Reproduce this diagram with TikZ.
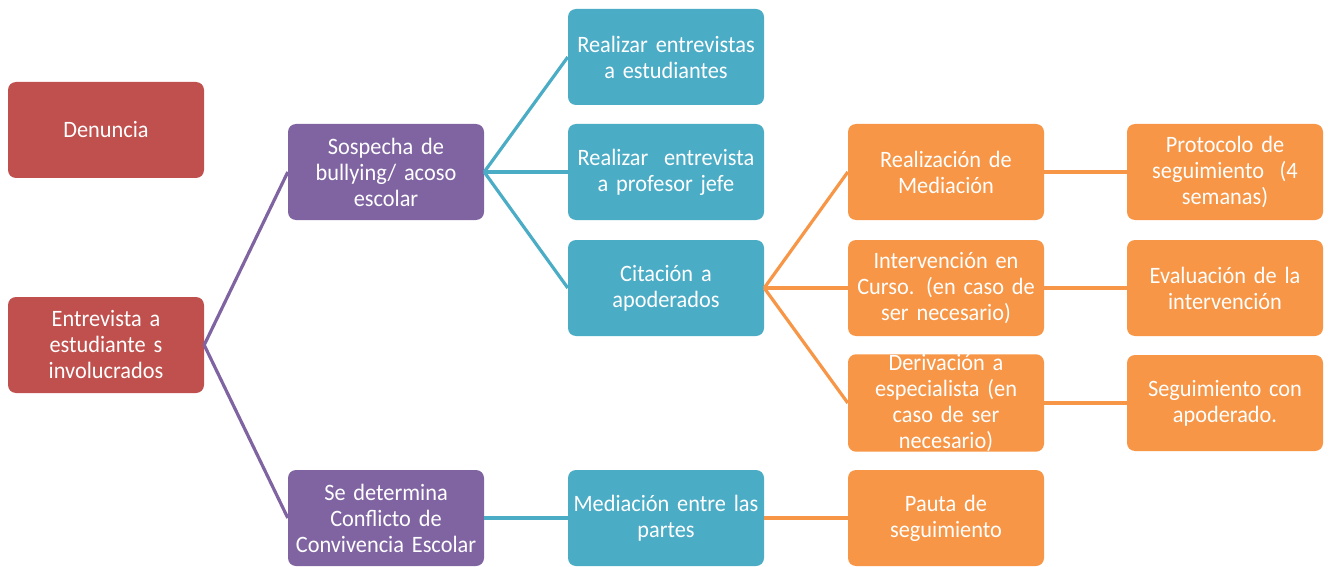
\documentclass[tikz,border=0pt]{standalone}
\usepackage{fontspec}
\setmainfont{Carlito}[FakeStretch=0.95]
\definecolor{cred}{HTML}{C0504D}
\definecolor{cpurple}{HTML}{8064A2}
\definecolor{cteal}{HTML}{4BACC6}
\definecolor{corange}{HTML}{F79646}
\newcommand{\boxfont}{\fontsize{23.5}{26}\selectfont\spaceskip=0.17em plus 0.05em minus 0.02em\relax}
\begin{document}
\begin{tikzpicture}[x=1pt,y=-1pt,
  box/.style={rounded corners=8pt, minimum width=196pt, minimum height=96pt, inner sep=0pt,
    text=white, align=center, text width=196pt, font=\boxfont},
  redbox/.style={box, fill=cred},
  purplebox/.style={box, fill=cpurple},
  tealbox/.style={box, fill=cteal},
  orangebox/.style={box, fill=corange},
  link/.style={line width=3.2pt}]
\useasboundingbox (0,0) rectangle (1331,567);
\node[redbox] (den) at (106,130) {Denuncia};
\node[redbox] (ent) at (106,345) {Entrevista a\\estudiante s\\involucrados};
\node[purplebox] (sos) at (386,172) {Sospecha de\\bullying/ acoso\\escolar};
\node[purplebox] (con) at (386,518) {Se determina\\Conflicto de\\Convivencia Escolar};
\node[tealbox] (r1) at (666,57) {Realizar entrevistas\\a estudiantes};
\node[tealbox] (r2) at (666,172) {Realizar\ \ entrevista\\a profesor jefe};
\node[tealbox] (cit) at (666,288) {Citación a\\apoderados};
\node[tealbox] (med) at (666,518) {Mediación entre las\\partes};
\node[orangebox] (rea) at (946,172) {Realización de\\Mediación};
\node[orangebox] (int) at (946,288) {Intervención en\\Curso. (en caso de\\ser necesario)};
\node[orangebox] (der) at (946,403) {Derivación a\\especialista (en\\caso de ser\\necesario)};
\node[orangebox] (pau) at (946,518) {Pauta de\\seguimiento};
\node[orangebox] (pro) at (1225,172) {Protocolo de\\seguimiento\ \ (4\\semanas)};
\node[orangebox] (eva) at (1225,288) {Evaluación de la\\intervención};
\node[orangebox] (seg) at (1225,403) {Seguimiento con\\apoderado.};
\draw[link, cpurple] (ent.east) -- (sos.west);
\draw[link, cpurple] (ent.east) -- (con.west);
\draw[link, cteal] (sos.east) -- (r1.west);
\draw[link, cteal] (sos.east) -- (r2.west);
\draw[link, cteal] (sos.east) -- (cit.west);
\draw[link, cteal] (con.east) -- (med.west);
\draw[link, corange] (cit.east) -- (rea.west);
\draw[link, corange] (cit.east) -- (int.west);
\draw[link, corange] (cit.east) -- (der.west);
\draw[link, corange] (med.east) -- (pau.west);
\draw[link, corange] (rea.east) -- (pro.west);
\draw[link, corange] (int.east) -- (eva.west);
\draw[link, corange] (der.east) -- (seg.west);
\end{tikzpicture}
\end{document}
